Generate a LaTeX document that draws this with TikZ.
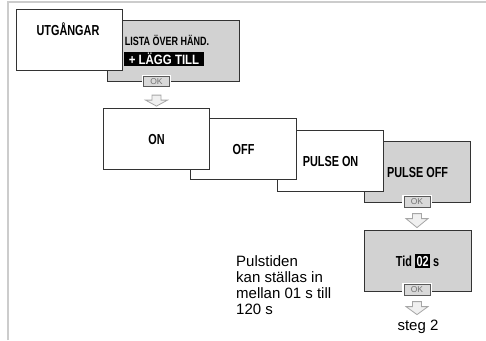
\documentclass[tikz,border=0pt]{standalone}
\usepackage{fontspec}
\setmainfont{Liberation Sans}
\newfontfamily\condfont[FakeStretch=0.75]{Liberation Sans}
\newfontfamily\semicondfont[FakeStretch=0.85]{Liberation Sans}
\usetikzlibrary{calc}
\tikzset{
  panel/.style={draw=black!80, line width=1.1pt, fill=white, minimum width=106pt,
    minimum height=61pt, anchor=north west, inner sep=0pt,
    font=\condfont\bfseries\fontsize{14.5}{16}\selectfont},
  greypanel/.style={panel, fill=gray!35},
  lbl/.style={inner sep=0pt, font=\condfont\bfseries\fontsize{14.5}{16}\selectfont},
  okbtn/.style={draw=black!65, fill=gray!30, line width=0.7pt, minimum width=26pt,
    minimum height=10.5pt, inner sep=0pt, text=black!55,
    font=\fontsize{8.5}{9}\selectfont, preaction={draw=white, line width=3.5pt}},
  pics/downarrow/.style={code={
    \draw[gray!70, fill=gray!12, line width=0.8pt, line join=miter]
      (-4.5,0) -- (4.5,0) -- (4.5,5) -- (11,5) -- (0,#1) -- (-11,5) -- (-4.5,5) -- cycle;}},
  plain/.style={inner sep=0pt, font=\fontsize{15}{16}\selectfont}
}
\begin{document}
\begin{tikzpicture}[x=1pt, y=-1pt]
\useasboundingbox (0,0) rectangle (486,340);
\fill[white] (0,0) rectangle (486,340);
\draw[gray!40, line width=1.5pt] (8,340) -- (8,2) -- (486,2);

% top pair
\node[greypanel, minimum width=132pt] (lista) at (107,20) {};
\node[panel] (utg) at (16,9) {};
\node[lbl] (utgtxt) at (68,29) {UTGÅNGAR};
\node[lbl, font=\condfont\bfseries\fontsize{12}{13}\selectfont] (listatxt) at (167,40) {LISTA ÖVER HÄND.};
\node[lbl, fill=black, text=white, minimum width=80pt, minimum height=14pt,
  font=\semicondfont\bfseries\fontsize{13.5}{15}\selectfont] (lagg) at (164,59) {+ LÄGG TILL};
\node[okbtn] (ok1) at (156.5,81.5) {OK};
\pic at ($(ok1.south)+(0,8)$) {downarrow=11};

% chain of outputs
\node[greypanel] (poff) at (364,141) {PULSE OFF};
\node[panel] (pon) at (277,130) {PULSE ON};
\node[panel] (off) at (190,118) {OFF};
\node[panel] (on) at (103,108) {ON};
\node[okbtn] (ok2) at (417,202) {OK};
\pic at ($(ok2.south)+(0,6)$) {downarrow=14};

% time setting
\node[greypanel, minimum width=107pt] (tid) at (363.5,230)
  {Tid \setlength{\fboxsep}{1.5pt}\colorbox{black}{\textcolor{white}{02}} s};
\node[okbtn] (ok3) at (417,290) {OK};
\pic at ($(ok3.south)+(0,6)$) {downarrow=13};
\node[plain] (steg) at (418,327) {steg 2};

\node[plain, align=left, anchor=north west] (puls) at (236,255)
  {Pulstiden\\kan ställas in\\mellan 01 s till\\120 s};
\end{tikzpicture}
\end{document}
